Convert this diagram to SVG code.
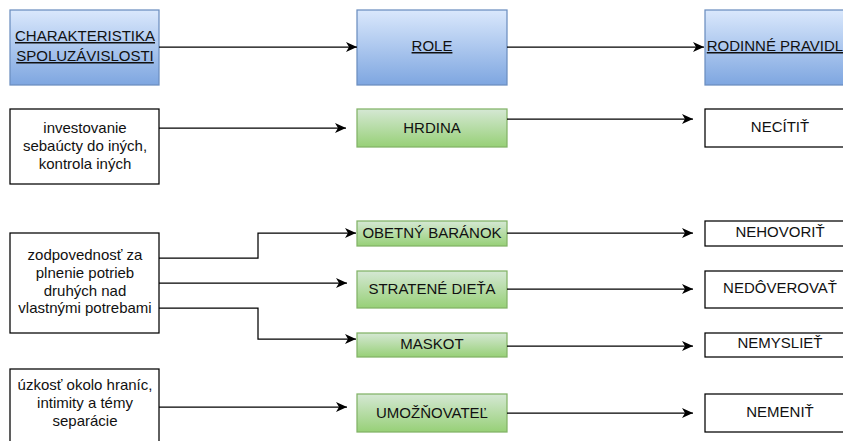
<svg xmlns="http://www.w3.org/2000/svg" width="843" height="441" viewBox="0 0 843 441">
  <defs>
    <linearGradient id="gBlue" x1="0" y1="0" x2="0" y2="1">
      <stop offset="0" stop-color="#dae8fc"/>
      <stop offset="1" stop-color="#7ea6e0"/>
    </linearGradient>
    <linearGradient id="gGreen" x1="0" y1="0" x2="0" y2="1">
      <stop offset="0" stop-color="#d5e8d4"/>
      <stop offset="1" stop-color="#97d077"/>
    </linearGradient>
    <marker id="arrow" markerUnits="userSpaceOnUse" markerWidth="12" markerHeight="10" refX="11" refY="5" orient="auto">
      <path d="M0,0 L11,5 L0,10 L3,5 Z" fill="#000"/>
    </marker>
    <style>
      text { font-family: "Liberation Sans", Arial, sans-serif; font-size: 15px; fill: #111; text-anchor: middle; }
      .head { fill: url(#gBlue); stroke: #6c8ebf; stroke-width: 1.25; }
      .head text, text.u { text-decoration: underline; }
      .role rect { fill: url(#gGreen); stroke: #82b366; stroke-width: 1.25; }
      .plain rect { fill: #fff; stroke: #000; stroke-width: 1.25; }
      .edges path { fill: none; stroke: #000; stroke-width: 1.25; marker-end: url(#arrow); }
    </style>
  </defs>
  <rect width="843" height="441" fill="#fff"/>

  <!-- header row -->
  <g id="charakteristika">
    <rect class="head" x="10" y="10" width="149" height="75"/>
    <text class="u" x="85" y="41">CHARAKTERISTIKA</text>
    <text class="u" x="85" y="61">SPOLUZÁVISLOSTI</text>
  </g>
  <g id="role">
    <rect class="head" x="357" y="10" width="150" height="75"/>
    <text class="u" x="432" y="51">ROLE</text>
  </g>
  <g id="pravidla">
    <rect class="head" x="705" y="10" width="150" height="75"/>
    <text class="u" x="780" y="51">RODINNÉ PRAVIDLÁ</text>
  </g>

  <!-- characteristics -->
  <g id="char1" class="plain">
    <rect x="10" y="109" width="149" height="75"/>
    <text x="85" y="133">investovanie</text>
    <text x="85" y="151">sebaúcty do iných,</text>
    <text x="85" y="169">kontrola iných</text>
  </g>
  <g id="char2" class="plain">
    <rect x="10" y="233" width="149" height="100"/>
    <text x="85" y="260">zodpovednosť za</text>
    <text x="85" y="278">plnenie potrieb</text>
    <text x="85" y="296">druhých nad</text>
    <text x="85" y="313">vlastnými potrebami</text>
  </g>
  <g id="char3" class="plain">
    <rect x="10" y="369" width="149" height="77"/>
    <text x="85" y="390">úzkosť okolo hraníc,</text>
    <text x="85" y="408">intimity a témy</text>
    <text x="85" y="426">separácie</text>
  </g>

  <!-- roles -->
  <g id="hrdina" class="role">
    <rect x="357" y="109" width="150" height="38"/>
    <text x="432" y="133">HRDINA</text>
  </g>
  <g id="obetny" class="role">
    <rect x="357" y="221" width="150" height="25"/>
    <text x="432" y="238">OBETNÝ BARÁNOK</text>
  </g>
  <g id="stratene" class="role">
    <rect x="357" y="271" width="150" height="37"/>
    <text x="432" y="294">STRATENÉ DIEŤA</text>
  </g>
  <g id="maskot" class="role">
    <rect x="357" y="333" width="150" height="24"/>
    <text x="432" y="349">MASKOT</text>
  </g>
  <g id="umoznovatel" class="role">
    <rect x="357" y="394" width="150" height="38"/>
    <text x="432" y="418">UMOŽŇOVATEĽ</text>
  </g>

  <!-- family rules -->
  <g id="necitit" class="plain">
    <rect x="705" y="109" width="150" height="38"/>
    <text x="780" y="132">NECÍTIŤ</text>
  </g>
  <g id="nehovorit" class="plain">
    <rect x="705" y="221" width="150" height="25"/>
    <text x="780" y="237">NEHOVORIŤ</text>
  </g>
  <g id="nedoverovat" class="plain">
    <rect x="705" y="271" width="150" height="37"/>
    <text x="780" y="293">NEDÔVEROVAŤ</text>
  </g>
  <g id="nemysliet" class="plain">
    <rect x="705" y="333" width="150" height="24"/>
    <text x="780" y="348">NEMYSLIEŤ</text>
  </g>
  <g id="nemenit" class="plain">
    <rect x="705" y="394" width="150" height="38"/>
    <text x="780" y="417">NEMENIŤ</text>
  </g>

  <!-- connectors -->
  <g id="edges" class="edges">
    <path d="M159,47 H357"/>
    <path d="M507,47 H704"/>
    <path d="M159,128 H346"/>
    <path d="M507,119 H693"/>
    <path d="M159,258 H258 V233 H356"/>
    <path d="M159,283 H347"/>
    <path d="M159,308 H258 V339 H356"/>
    <path d="M507,233 H693"/>
    <path d="M507,289 H693"/>
    <path d="M507,346 H693"/>
    <path d="M159,407 H347"/>
    <path d="M507,413 H693"/>
  </g>
</svg>
